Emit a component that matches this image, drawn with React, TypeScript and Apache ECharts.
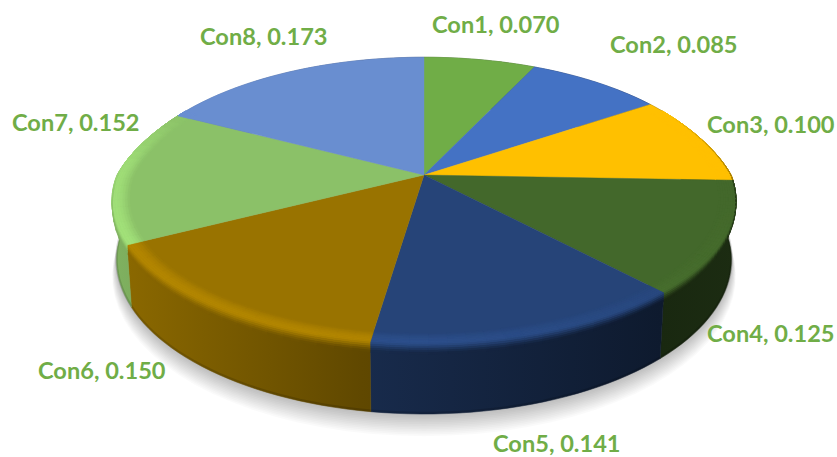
import React, { useEffect, useRef } from "react";
import * as echarts from "echarts";

const categories = ["Con1", "Con2", "Con3", "Con4", "Con5", "Con6", "Con7", "Con8"];
const values = [0.07, 0.085, 0.1, 0.125, 0.141, 0.15, 0.152, 0.173];
const colors = ["#70AD47", "#4472C4", "#FFC000", "#43682B", "#264478", "#997300", "#8BC168", "#698ED0"];
const labelAnchors = [
  [432, 24], [610, 44], [707, 124], [707, 333], [493, 443], [38, 370], [12, 122], [200, 36],
];

const CX = 424, CY = 175, A = 307, B = 139, K = 0.18, DEPTH = 57;
const total = values.reduce((a, b) => a + b, 0);
const rad = (d: number) => (d * Math.PI) / 180;

const startAngle = (i: number) => (values.slice(0, i).reduce((a, b) => a + b, 0) / total) * 360;
const endAngle = (i: number) => startAngle(i) + (values[i] / total) * 360;

function project(deg: number, r: number, h: number): [number, number] {
  const u = r * Math.sin(rad(deg));
  const v = r * Math.cos(rad(deg));
  const w = 1 + K * v;
  const back = v > 0 ? 1 - 0.022 * Math.sin((Math.PI / 2) * Math.min(1, v / 0.5)) : 1;
  return [CX + ((A * u) / w) * back * (1 - 0.015 * h), CY - (B * v) / w + (h * DEPTH) / w];
}

function arc(a0: number, a1: number, r: number, h: number, step = 2): [number, number][] {
  const n = Math.max(1, Math.ceil((a1 - a0) / step));
  const out: [number, number][] = [];
  for (let i = 0; i <= n; i++) out.push(project(a0 + ((a1 - a0) * i) / n, r, h));
  return out;
}

function rgb(hex: string) {
  return [1, 3, 5].map((p) => parseInt(hex.slice(p, p + 2), 16));
}
function css(c: number[]) {
  return `rgb(${c.map((x) => Math.round(Math.max(0, Math.min(255, x)))).join(",")})`;
}
function mix(a: number[], b: number[], t: number) {
  return a.map((x, i) => x + (b[i] - x) * t);
}
function table(t: number[][], x: number) {
  if (x <= t[0][0]) return t[0][1];
  for (let i = 1; i < t.length; i++) {
    if (x <= t[i][0]) {
      const f = (x - t[i - 1][0]) / (t[i][0] - t[i - 1][0]);
      return t[i - 1][1] + (t[i][1] - t[i - 1][1]) * f;
    }
  }
  return t[t.length - 1][1];
}

const SIDE_SHADE = [[0, 0.92], [0.4, 0.63], [0.88, 0.38], [1, 0.42]];
const HIGHLIGHT = [[60, 0], [100, 0], [140, 0.06], [180, 0.16], [240, 0.17], [275, 0.14], [300, 0]];
const EDGE_BLEND = [[62, 0], [100, 0.85], [130, 1], [250, 1], [275, 0]];
const EDGE_DROP = [[60, 0], [92, 0], [130, 1], [250, 1], [275, 0]];
const SHADOW_LAYERS = 14;
const BEVEL_BANDS = 12;
const BEVEL_R0 = 0.945;
const BEVEL_DROP = 0.14;

function sideColor(base: number[], x: number) {
  const s = table(SIDE_SHADE, (x - 112) / 624);
  return base.map((c) => c * s);
}

function bevelPoint(deg: number, s: number): [number, number] {
  if (s <= 0.6) return project(deg, BEVEL_R0 + ((1 - BEVEL_R0) * s) / 0.6, 0);
  return project(deg, 1, BEVEL_DROP * table(EDGE_DROP, deg) * ((s - 0.6) / 0.4));
}

function renderShadow(_: unknown, api: any) {
  const j = api.value(0);
  const f = 1 - j / (SHADOW_LAYERS - 1);
  return {
    type: "polygon",
    shape: { points: arc(0, 360, 1 + 0.018 * f, 1 + 0.26 * f, 4) },
    style: { fill: "rgba(0,0,0,0.019)" },
  };
}

function renderSide(_: unknown, api: any) {
  const i = api.value(0);
  const a0 = startAngle(i), a1 = endAngle(i);
  const base = rgb(colors[i]);
  const stops = SIDE_SHADE.map(([o, s]) => ({ offset: o, color: css(base.map((c) => c * s)) }));
  const grad = new echarts.graphic.LinearGradient(112, 0, 736, 0, stops, true);
  return {
    type: "group",
    children: [
      {
        type: "polygon",
        shape: { points: [...arc(a0, a1, 1, 0), ...arc(a0, a1, 1, 1).reverse()] },
        style: { fill: grad, stroke: grad, lineWidth: 0.5 },
      },
      {
        type: "polyline",
        shape: { points: arc(a0, a1, 1, 0.985) },
        style: { fill: "none", stroke: "rgba(0,0,0,0.14)", lineWidth: 2.5 },
      },
    ],
  };
}

function renderTop(_: unknown, api: any) {
  const i = api.value(0);
  const a0 = startAngle(i), a1 = endAngle(i);
  return {
    type: "polygon",
    shape: { points: [[CX, CY], ...arc(a0, a1, 1, 0, 1)] },
    style: { fill: colors[i], stroke: colors[i], lineWidth: 0.4 },
  };
}

function renderBevel(_: unknown, api: any) {
  const i = api.value(0);
  const a0 = Math.max(startAngle(i), 60);
  const a1 = Math.min(endAngle(i), 300);
  if (a1 <= a0) return { type: "group", children: [] };
  const base = rgb(colors[i]);
  const step = a0 < 110 ? 1.5 : 3;
  const n = Math.max(1, Math.ceil((a1 - a0) / step));
  const children: any[] = [];
  for (let s = 0; s < n; s++) {
    const d0 = a0 + ((a1 - a0) * s) / n;
    const d1 = a0 + ((a1 - a0) * (s + 1)) / n;
    const mid = (d0 + d1) / 2;
    const hl = table(HIGHLIGHT, mid);
    const blend = table(EDGE_BLEND, mid);
    const side = sideColor(base, project(mid, 1, 0)[0]);
    const lit = base.map((x) => x * (1 + hl));
    for (let b = 0; b < BEVEL_BANDS; b++) {
      const t = (b + 0.5) / BEVEL_BANDS;
      let c: number[];
      if (t < 0.5) {
        c = mix(base, lit, Math.sin((t / 0.5) * (Math.PI / 2)));
      } else {
        const q = (t - 0.5) / 0.5;
        c = mix(lit, side, (q * q * (3 - 2 * q)) * blend);
      }
      const col = css(c);
      const sa = b / BEVEL_BANDS, sb = (b + 1) / BEVEL_BANDS;
      children.push({
        type: "polygon",
        shape: {
          points: [bevelPoint(d0, sa), bevelPoint(d1, sa), bevelPoint(d1, sb), bevelPoint(d0, sb)],
        },
        style: { fill: col, stroke: col, lineWidth: 0.6 },
      });
    }
  }
  return { type: "group", children };
}

function renderLabel(_: unknown, api: any) {
  const i = api.value(0);
  return {
    type: "text",
    x: labelAnchors[i][0],
    y: labelAnchors[i][1],
    style: {
      text: `${categories[i]}, ${values[i].toFixed(3)}`,
      fill: "#70AD47",
      font: 'bold 23.6px Lato, "Open Sans", sans-serif',
      textAlign: "left",
      textVerticalAlign: "middle",
    },
  };
}

export default function App() {
  const ref = useRef<HTMLDivElement>(null);
  useEffect(() => {
    if (!ref.current) return;
    const chart = echarts.init(ref.current, null, { renderer: "svg" });
    const data = values.map((v, i) => [i, v]);
    const layer = (renderItem: any, d: any = data) => ({
      type: "custom",
      coordinateSystem: "none",
      silent: true,
      clip: false,
      data: d,
      renderItem,
    });
    chart.setOption({
      animation: false,
      backgroundColor: "#ffffff",
      series: [
        layer(renderShadow, Array.from({ length: SHADOW_LAYERS }, (_, j) => [j])),
        layer(renderSide),
        layer(renderTop),
        layer(renderBevel),
        layer(renderLabel),
      ],
    });
    return () => chart.dispose();
  }, []);
  return <div ref={ref} style={{ position: "fixed", left: 0, top: 0, width: 837, height: 457 }} />;
}
